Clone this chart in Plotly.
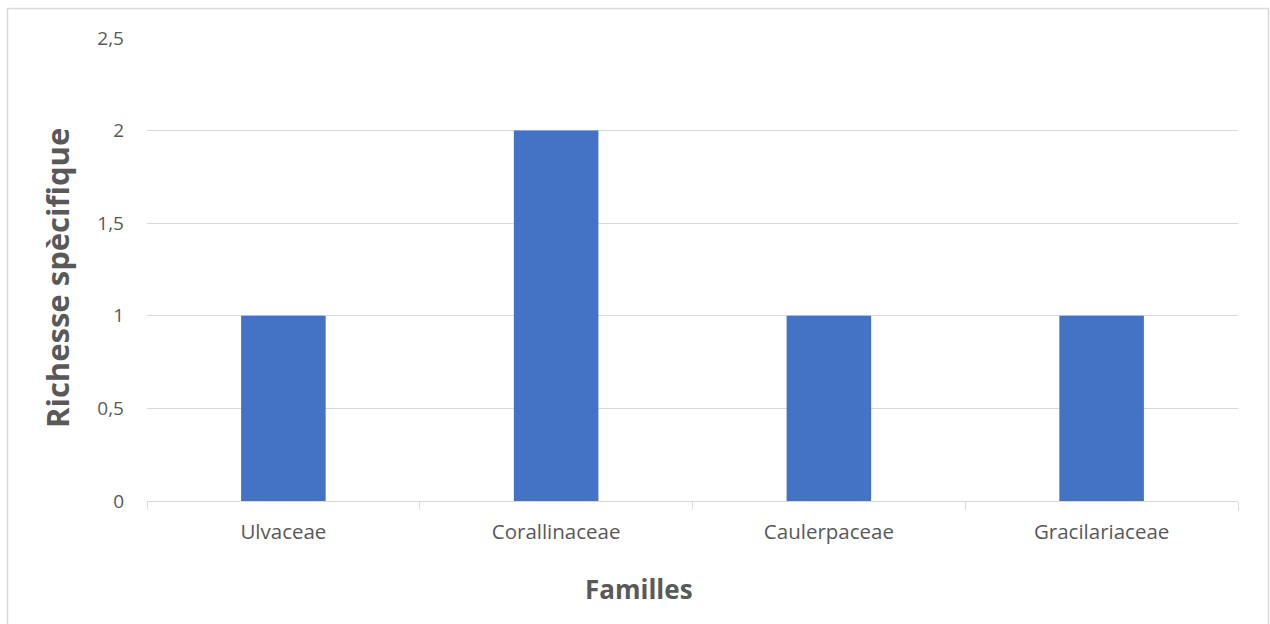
import plotly.graph_objects as go

familles = ["Ulvaceae", "Corallinaceae", "Caulerpaceae", "Gracilariaceae"]
richesse = [1, 2, 1, 1]
y_tickvals = [0, 0.5, 1, 1.5, 2, 2.5]
y_ticktext = ["0", "0,5", "1", "1,5", "2", "2,5"]

FONT = "Open Sans"
GREY = "#595959"
LINE = "#d9d9d9"

fig = go.Figure(go.Bar(x=familles, y=richesse, marker_color="#4472c4",
                       marker_line_width=0, hoverinfo="x+y"))

fig.update_layout(
    width=1270, height=624,
    margin=dict(l=147, r=32, t=38, b=123),
    paper_bgcolor="white", plot_bgcolor="white",
    bargap=0.69, showlegend=False,
    separators=", ",
    font=dict(family=FONT, color=GREY, size=19),
)
fig.update_xaxes(
    showline=True, linecolor=LINE, linewidth=1,
    ticks="outside", tickson="boundaries", ticklen=8, tickcolor=LINE,
    tickfont=dict(size=20.5, color=GREY, family=FONT),
    ticklabelstandoff=12, showgrid=False,
)
fig.update_yaxes(
    range=[0, 2.5], tickvals=y_tickvals, ticktext=y_ticktext,
    showgrid=True, gridcolor=LINE, gridwidth=1, zeroline=False,
    showline=False, ticks="", ticklabelstandoff=22,
    tickfont=dict(size=19, color=GREY, family=FONT),
)
fig.add_annotation(text="<b>Familles</b>", xref="paper", yref="paper",
                   x=(639 - 147) / 1091, y=-(589 - 501) / 463,
                   xanchor="center", yanchor="middle", showarrow=False,
                   font=dict(size=26, color=GREY, family=FONT))
fig.add_annotation(text="<b>Richesse spècifique</b>", xref="paper", yref="paper",
                   x=-(147 - 57) / 1091, y=(501 - 278) / 463, textangle=-90,
                   xanchor="center", yanchor="middle", showarrow=False,
                   font=dict(size=31, color=GREY, family=FONT))
fig.add_shape(type="rect", xref="paper", yref="paper",
              x0=-(147 - 7.5) / 1091, x1=1 + (1268.5 - 1238) / 1091,
              y0=-(640 - 501) / 463, y1=1 + (38 - 8.5) / 463,
              line=dict(color=LINE, width=1.5), layer="below")

fig.write_html("out.html")
